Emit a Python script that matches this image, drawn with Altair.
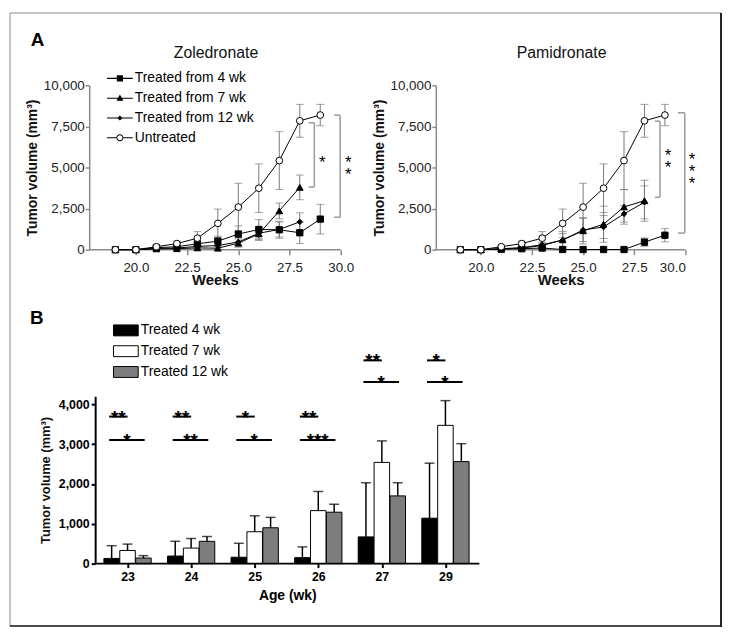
import altair as alt
import pandas as pd

FONT = "Liberation Sans"

# ---------------- Panel A data ----------------
weeks = [19, 20, 21, 22, 23, 24, 25, 26, 27, 28, 29]
series_names = ["Treated from 4 wk", "Treated from 7 wk", "Treated from 12 wk", "Untreated"]

untreated = [0, 0, 180, 370, 700, 1600, 2590, 3740, 5420, 7840, 8190]
untreated_err = [0, 0, 80, 150, 400, 870, 1450, 1480, 1760, 1000, 650]

zol_4 = [0, 0, 120, 180, 360, 520, 950, 1230, 1210, 1030, 1860]
zol_4_err = [0, 0, 50, 80, 150, 300, 500, 600, 520, 650, 900]
zol_7 = [0, 0, 50, 60, 110, 90, 400, 960, 2360, 3790, None]
zol_7_err = [0, 0, 30, 40, 60, 80, 250, 400, 480, 750, None]
zol_12 = [0, 0, 80, 100, 200, 250, 470, 1000, 1230, 1690, None]
zol_12_err = [0, 0, 40, 60, 100, 150, 250, 350, 450, 550, None]

pam_4 = [0, 0, 30, 60, 100, 10, 10, 10, 10, 460, 880]
pam_4_err = [0, 0, 20, 30, 50, 10, 10, 10, 10, 250, 400]
pam_7 = [0, 0, 50, 100, 250, 600, 1150, 1550, 2600, 2980, None]
pam_7_err = [0, 0, 30, 60, 150, 500, 800, 1100, 1050, 1250, None]
pam_12 = [0, 0, 60, 120, 300, 580, 1200, 1380, 2180, 2880, None]
pam_12_err = [0, 0, 40, 80, 150, 400, 700, 700, 500, 1000, None]

# significance brackets (x in weeks, y in mm3); star y = position of the first star
zol_br_x = [28.71, 29.97]
zol_br_top = [7720, 8185]
zol_br_bot = [3810, 1975]
zol_br_arm = [0.28, 0.29]
zol_star_txt = ["*", "*\n*"]
zol_star_x = [29.1, 30.37]
zol_star_y = [5600, 5560]

pam_br_x = [28.76, 29.97]
pam_br_top = [7820, 8330]
pam_br_bot = [3185, 1010]
pam_br_arm = [0.25, 0.33]
pam_star_txt = ["*\n*", "*\n*\n*"]
pam_star_x = [29.15, 30.33]
pam_star_y = [5985, 5770]

# ---------------- Panel B data ----------------
ages = ["23", "24", "25", "26", "27", "29"]
bar_groups = ["Treated 4 wk", "Treated 7 wk", "Treated 12 wk"]
treated4 = [130, 190, 160, 150, 670, 1140]
treated4_top = [450, 560, 510, 420, 2030, 2520]
treated7 = [330, 390, 800, 1330, 2540, 3470]
treated7_top = [490, 630, 1200, 1810, 3080, 4090]
treated12 = [140, 560, 900, 1290, 1700, 2560]
treated12_top = [200, 680, 1160, 1490, 2030, 3010]
sig_upper = ["**", "**", "*", "**", "**", "*"]
sig_lower = ["*", "**", "*", "***", "*", "*"]
sig_upper_y = [3690, 3690, 3690, 3690, 5100, 5100]
sig_lower_y = [3100, 3100, 3100, 3100, 4560, 4560]

AX_GRAY = "#8a8a8a"
ERR_GRAY = "#7a7a7a"
TOP_W = 602      # both A panels share one plot strip
TOP_H = 166

marker_specs = [
    ("Treated from 4 wk", "square", "black", 40),
    ("Treated from 7 wk", "triangle-up", "black", 46),
    ("Treated from 12 wk", "diamond", "black", 30),
    ("Untreated", "circle", "white", 46),
]

# legend glyphs: thin filled bar (the line) + marker, all clockwise so they fill together
LINE_BAR = "M-1,-0.04H1V0.04H-1Z"
legend_paths = [
    LINE_BAR + "M-0.24,-0.24H0.24V0.24H-0.24Z",
    LINE_BAR + "M0,-0.28L0.27,0.2H-0.27Z",
    LINE_BAR + "M0,-0.2L0.2,0L0,0.2L-0.2,0Z",
    "M-1,-0.04H-0.27V0.04H-1ZM0.27,-0.04H1V0.04H0.27Z"
    "M0.27,0A0.27,0.27 0 1,0 -0.27,0A0.27,0.27 0 1,0 0.27,0Z"
    "M0.2,0A0.2,0.2 0 1,1 -0.2,0A0.2,0.2 0 1,1 0.2,0Z",
]


def series_frame(vals_list, errs_list):
    rows = []
    for name, vals, errs in zip(series_names, vals_list, errs_list):
        for w, v, e in zip(weeks, vals, errs):
            if v is None:
                continue
            rows.append(dict(week=w, value=v, lo=max(0, v - e), hi=v + e, series=name))
    return pd.DataFrame(rows)


def line_panel(vals, errs, xmin, x0px, wpx, br, stars, title, show_legend, panel_label):
    """One A panel drawn inside the shared strip, starting x0px pixels from its left."""
    df = series_frame(vals, errs)
    ppw = wpx / (30 - xmin)                       # pixels per week
    dom = [xmin - x0px / ppw, xmin + (TOP_W - x0px) / ppw]
    xs = alt.Scale(domain=dom, nice=False, zero=False)
    ys = alt.Scale(domain=[0, 10000], nice=False)
    xax = alt.Axis(values=[20, 22.5, 25, 27.5, 30], format=".1f", title="Weeks", grid=False, orient="bottom",
                   domain=False, tickColor=AX_GRAY, tickWidth=1.5, tickSize=5,
                   labelFontSize=13.5, labelColor="#222", labelPadding=6, labelFont=FONT,
                   titleFontSize=15, titleFontWeight="bold", titleColor="#111", titlePadding=-1, titleFont=FONT,
                   titleX=x0px + wpx / 2, titleAlign="center", titleAnchor="middle")
    yax = alt.Axis(values=[0, 2500, 5000, 7500, 10000], format=",d", title="Tumor volume (mm³)", grid=False,
                   orient="left", offset=-x0px,
                   domainColor=AX_GRAY, domainWidth=1.5, tickColor=AX_GRAY, tickWidth=1.5, tickSize=4,
                   labelFontSize=13.5, labelColor="#222", labelPadding=1, labelFont=FONT,
                   titleFontSize=14, titleFontWeight="bold", titleColor="#111", titlePadding=4, titleFont=FONT)
    X = alt.X("week:Q", scale=xs, axis=xax)
    base = alt.Chart(df)
    err = base.mark_rule(color=ERR_GRAY, strokeWidth=1).encode(
        x=X, y=alt.Y("lo:Q", scale=ys, axis=yax), y2="hi:Q")
    cap_lo = base.mark_tick(orient="horizontal", size=8, thickness=1, color=ERR_GRAY).encode(
        x=X, y=alt.Y("lo:Q", scale=ys, axis=yax))
    cap_hi = base.mark_tick(orient="horizontal", size=8, thickness=1, color=ERR_GRAY).encode(
        x=X, y=alt.Y("hi:Q", scale=ys, axis=yax))
    # x-axis line only under this panel
    adf = pd.DataFrame({"a0": [xmin], "a1": [30], "z": [0]})
    axline = alt.Chart(adf).mark_rule(color=AX_GRAY, strokeWidth=1.5).encode(
        x=alt.X("a0:Q", scale=xs, axis=xax), x2="a1:Q", y=alt.Y("z:Q", scale=ys, axis=yax))
    line = base.mark_line(color="black", strokeWidth=1).encode(
        x=X, y=alt.Y("value:Q", scale=ys, axis=yax), detail="series:N")
    layers = [axline, err, cap_lo, cap_hi, line]
    for name, shp, fillc, sz in marker_specs:
        layers.append(base.transform_filter(alt.datum.series == name).mark_point(
            shape=shp, filled=True, fill=fillc, stroke="black", strokeWidth=1, size=sz, opacity=1).encode(
            x=X, y=alt.Y("value:Q", scale=ys, axis=yax)))
    bx, btop, bbot, barm = br
    bdf = pd.DataFrame({"bx": bx, "btop": btop, "bbot": bbot, "arm": barm})
    bdf["ax"] = bdf["bx"] - bdf["arm"]
    bbase = alt.Chart(bdf)
    layers.append(bbase.mark_rule(color="#9a9a9a", strokeWidth=1.5).encode(
        x=alt.X("bx:Q", scale=xs, axis=xax), y=alt.Y("btop:Q", scale=ys, axis=yax), y2="bbot:Q"))
    layers.append(bbase.mark_rule(color="#9a9a9a", strokeWidth=1.5).encode(
        x=alt.X("ax:Q", scale=xs, axis=xax), x2="bx:Q", y=alt.Y("btop:Q", scale=ys, axis=yax)))
    layers.append(bbase.mark_rule(color="#9a9a9a", strokeWidth=1.5).encode(
        x=alt.X("ax:Q", scale=xs, axis=xax), x2="bx:Q", y=alt.Y("bbot:Q", scale=ys, axis=yax)))
    stxt, sx, sy = stars
    sdf = pd.DataFrame({"t": stxt, "sx": sx, "sy": sy})
    layers.append(alt.Chart(sdf).mark_text(fontSize=17, lineBreak="\n", lineHeight=12, baseline="middle",
                                           align="center", dy=5, color="black", font=FONT).encode(
        x=alt.X("sx:Q", scale=xs, axis=xax), y=alt.Y("sy:Q", scale=ys, axis=yax), text="t:N"))
    layers.append(alt.Chart(pd.DataFrame({"t": [title]})).mark_text(
        fontSize=16, font=FONT, align="center", baseline="alphabetic", color="#111").encode(
        x=alt.value(x0px + wpx / 2 + 1), y=alt.value(-27.5), text="t:N"))
    if panel_label:
        layers.append(alt.Chart(pd.DataFrame({"t": [panel_label]})).mark_text(
            fontSize=19, fontWeight="bold", font=FONT, align="left", baseline="alphabetic", color="black").encode(
            x=alt.value(x0px - 59), y=alt.value(-39.7), text="t:N"))
    if show_legend:
        layers.append(base.mark_point(opacity=0, filled=True, fill="black").encode(
            x=X, y=alt.Y("value:Q", scale=ys, axis=yax),
            shape=alt.Shape("series:N", scale=alt.Scale(domain=series_names, range=legend_paths),
                            legend=alt.Legend(title=None, orient="none", legendX=x0px + 18, legendY=-20,
                                              symbolSize=676, symbolFillColor="black",
                                              symbolStrokeWidth=0, symbolOpacity=1,
                                              labelFontSize=14, labelColor="black",
                                              labelFont=FONT, labelOffset=2, rowPadding=-5.5, padding=0))))
    return alt.layer(*layers)


zol = line_panel([zol_4, zol_7, zol_12, untreated], [zol_4_err, zol_7_err, zol_12_err, untreated_err],
                 17.72, 0, 254, (zol_br_x, zol_br_top, zol_br_bot, zol_br_arm),
                 (zol_star_txt, zol_star_x, zol_star_y), "Zoledronate", True, "A")
pam = line_panel([pam_4, pam_7, pam_12, untreated], [pam_4_err, pam_7_err, pam_12_err, untreated_err],
                 17.8, 350, 252, (pam_br_x, pam_br_top, pam_br_bot, pam_br_arm),
                 (pam_star_txt, pam_star_x, pam_star_y), "Pamidronate", False, None)

top = alt.layer(zol, pam).resolve_scale(x="independent", y="independent").resolve_axis(
    x="independent", y="independent").properties(width=TOP_W, height=TOP_H)

# ---------------- Panel B chart ----------------
offsets = [-0.25, 0.0, 0.25]
brows = []
for gi, (g, vals, tops) in enumerate(zip(bar_groups, [treated4, treated7, treated12],
                                          [treated4_top, treated7_top, treated12_top])):
    for i, (v, t) in enumerate(zip(vals, tops)):
        c = i + offsets[gi]
        brows.append(dict(group=g, age=ages[i], cx=c, left=c - 0.122, right=c + 0.122,
                          value=v, top=t, zero=0))
bdf = pd.DataFrame(brows)

srows = []
for i in range(len(ages)):
    srows.append(dict(x1=i - 0.29, x2=i + 0.0, xm=i - 0.145, y=sig_upper_y[i], t=sig_upper[i]))
    srows.append(dict(x1=i - 0.29, x2=i + 0.27, xm=i - 0.01, y=sig_lower_y[i], t=sig_lower[i]))
sdfB = pd.DataFrame(srows)

B_W = 394
B_SHIFT = 6   # reference axis sits 6px right of the A panel's axis
bxs = alt.Scale(domain=[-0.603, 5.534], nice=False, zero=False)
bys = alt.Scale(domain=[0, 4200], nice=False)
label_expr = "[" + ",".join("'%s'" % a for a in ages) + "][datum.value]"
bxax = alt.Axis(values=list(range(len(ages))), labelExpr=label_expr, title="Age (wk)", grid=False,
                domain=False, tickColor="black", tickWidth=2, tickSize=4,
                labelFontSize=12.5, labelFontWeight="bold", labelColor="black", labelPadding=3, labelFont=FONT,
                titleFontSize=14, titleFontWeight="bold", titleColor="black", titlePadding=6, titleFont=FONT,
                titleX=B_SHIFT + (B_W - B_SHIFT) / 2, titleAlign="center", titleAnchor="middle")
byax = alt.Axis(values=[0, 1000, 2000, 3000, 4000], format=",d", title="Tumor volume (mm³)", grid=False,
                offset=-B_SHIFT,
                domainColor="black", domainWidth=2, tickColor="black", tickWidth=2, tickSize=4,
                labelFontSize=12.5, labelFontWeight="bold", labelColor="black", labelPadding=2, labelFont=FONT,
                titleFontSize=13, titleFontWeight="bold", titleColor="#111", titlePadding=6, titleFont=FONT)

bb = alt.Chart(bdf)
bars = bb.mark_rect(stroke="black", strokeWidth=1).encode(
    x=alt.X("left:Q", scale=bxs, axis=bxax), x2="right:Q",
    y=alt.Y("value:Q", scale=bys, axis=byax), y2="zero:Q",
    fill=alt.Fill("group:N", scale=alt.Scale(domain=bar_groups, range=["black", "white", "#7d7d7d"]),
                  legend=alt.Legend(title=None, orient="none", legendX=24, legendY=-79.5,
                                    symbolType="M-1,-0.44H1V0.44H-1Z", symbolSize=625,
                                    symbolStrokeColor="black", symbolStrokeWidth=1, symbolOpacity=1,
                                    labelFontSize=14, labelColor="black", labelFont=FONT,
                                    labelOffset=2, rowPadding=-6.5, padding=0)),
)
baxdf = pd.DataFrame({"a0": [-0.509], "a1": [5.534], "z": [0]})
baxline = alt.Chart(baxdf).mark_rule(color="black", strokeWidth=2).encode(
    x=alt.X("a0:Q", scale=bxs, axis=bxax), x2="a1:Q", y=alt.Y("z:Q", scale=bys, axis=byax))
berr = bb.mark_rule(color="black", strokeWidth=1.5).encode(
    x=alt.X("cx:Q", scale=bxs, axis=bxax), y=alt.Y("value:Q", scale=bys, axis=byax), y2="top:Q")
bcap = bb.mark_tick(orient="horizontal", size=10, thickness=1.5, color="black").encode(
    x=alt.X("cx:Q", scale=bxs, axis=bxax), y=alt.Y("top:Q", scale=bys, axis=byax))
sb = alt.Chart(sdfB)
slines = sb.mark_rule(color="black", strokeWidth=2).encode(
    x=alt.X("x1:Q", scale=bxs, axis=bxax), x2="x2:Q", y=alt.Y("y:Q", scale=bys, axis=byax))
stext = sb.mark_text(fontSize=19, fontWeight="bold", font=FONT, align="center", baseline="alphabetic",
                     dy=7, color="black").encode(
    x=alt.X("xm:Q", scale=bxs, axis=bxax), y=alt.Y("y:Q", scale=bys, axis=byax), text="t:N")
one = alt.Chart(pd.DataFrame({"t": ["B"]}))
blab = one.mark_text(fontSize=19, fontWeight="bold", font=FONT, align="left", baseline="alphabetic",
                     color="black").encode(x=alt.value(-59.7), y=alt.value(-73.3), text="t:N")
frame = one.mark_rect(fillOpacity=0, stroke="#8a8a8a", strokeWidth=1).encode(
    x=alt.value(-80), x2=alt.value(638), y=alt.value(-387), y2=alt.value(232))
frame_r = one.mark_rule(color="#222", strokeWidth=2).encode(
    x=alt.value(638), y=alt.value(-387), y2=alt.value(233))
frame_b = one.mark_rule(color="#222", strokeWidth=1.5).encode(
    x=alt.value(-80), x2=alt.value(639), y=alt.value(232))

bchart = alt.layer(bars, baxline, berr, bcap, slines, stext, blab, frame, frame_r, frame_b).properties(
    width=B_W, height=169)

chart = alt.vconcat(top, bchart, spacing=148, bounds="flush").resolve_scale(
    shape="independent", fill="independent").resolve_legend(
    shape="independent", fill="independent").properties(padding=0).configure(
    font=FONT).configure_view(stroke="transparent")

chart.save("out.html", embed_options={"renderer": "svg", "actions": False})
